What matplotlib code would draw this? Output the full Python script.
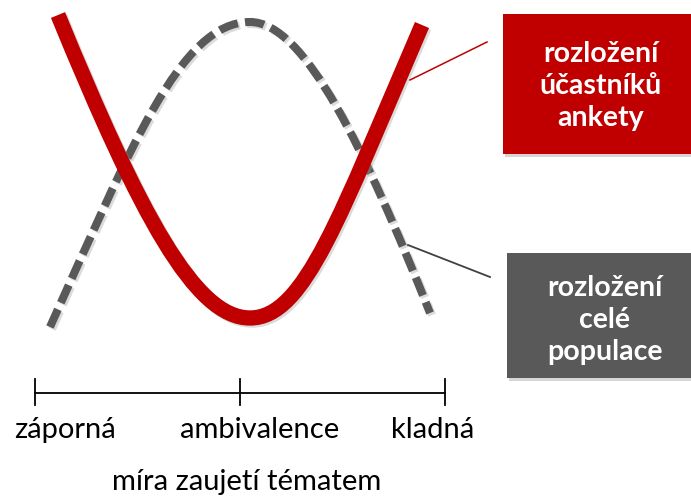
import matplotlib
matplotlib.use("Agg")
import matplotlib.pyplot as plt
from matplotlib.path import Path
from matplotlib.patches import PathPatch, Rectangle
import matplotlib.patheffects as pe

# Bezier control points of the two hand-drawn curves (picture coordinates, y down)
ucastnici_x = [58, 140, 195, 250, 305, 340, 422]
ucastnici_y = [15, 215, 318, 318, 318, 215, 25]
populace_x = [50, 130, 180, 250, 305, 365, 430]
populace_y = [327, 150, 22, 22, 22, 150, 313]

# axis of the scale
osa_ticks = [35, 240, 445]
osa_labels = ["záporná", "ambivalence", "kladná"]
osa_label_x = [65, 260, 433]
osa_title = "míra zaujetí tématem"

box_texts = ["rozložení\núčastníků\nankety", "rozložení\ncelé\npopulace"]

RED = "#C00000"
GRAY = "#595959"

fig = plt.figure(figsize=(6.91, 4.97), dpi=100)
ax = fig.add_axes([0, 0, 1, 1])
ax.set_xlim(0, 691)
ax.set_ylim(497, 0)
ax.axis("off")

codes = [Path.MOVETO] + [Path.CURVE4] * 6

shadow = [pe.SimpleLineShadow(offset=(1.5, -1.5), shadow_color="#999999", alpha=0.35), pe.Normal()]

p_pop = Path(list(zip(populace_x, populace_y)), codes)
ax.add_patch(PathPatch(p_pop, fill=False, edgecolor=GRAY, lw=5.8,
                       linestyle=(0, (2.4, 0.9)), capstyle="butt",
                       path_effects=shadow))

p_uc = Path(list(zip(ucastnici_x, ucastnici_y)), codes)
ax.add_patch(PathPatch(p_uc, fill=False, edgecolor=RED, lw=11,
                       capstyle="butt", path_effects=shadow))

# leader lines
ax.plot([410, 487], [80, 42], color=RED, lw=1.1)
ax.plot([408, 490], [245, 277], color="#404040", lw=1.3)

# boxes with shadow
for (x0, y0, w, h), col, txt, xs, ys in [((503, 14, 190, 140), RED, box_texts[0], 601, 86),
                                         ((507, 253, 186, 125), GRAY, box_texts[1], 605, 320)]:
    ax.add_patch(Rectangle((x0 + 2, y0 + 3), w, h, color="#bbbbbb", alpha=0.6, lw=0))
    ax.add_patch(Rectangle((x0, y0), w, h, color=col, lw=0))
    ax.text(xs, ys, txt, color="white", fontsize=20.5, fontweight="bold",
            family="Lato", ha="center", va="center", linespacing=1.3)

# scale axis
ax.plot([osa_ticks[0], osa_ticks[-1]], [393, 393], color="black", lw=1.3)
for t in osa_ticks:
    ax.plot([t, t], [379, 405], color="black", lw=1.3)
for lx, lab in zip(osa_label_x, osa_labels):
    ax.text(lx, 430, lab, fontsize=21, family="Lato", ha="center", va="center")
ax.text(247, 482, osa_title, fontsize=21, family="Lato", ha="center", va="center")

fig.savefig("out.png", dpi=100)
